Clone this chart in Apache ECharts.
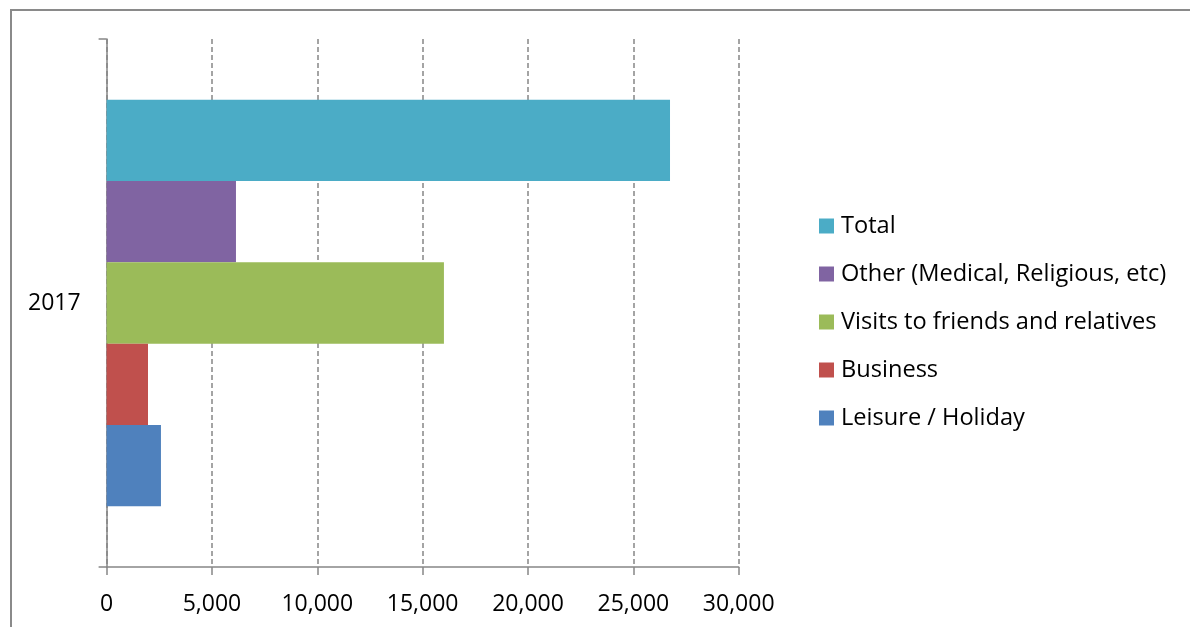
<!DOCTYPE html>
<html>
<head>
<meta charset="utf-8">
<style>
  html, body { margin: 0; padding: 0; background: #fff; }
  #chart { width: 1190px; height: 627px; }
</style>
<script src="https://cdn.jsdelivr.net/npm/echarts@6/dist/echarts.min.js"></script>
</head>
<body>
<div id="chart"></div>
<script>
// Visitor arrivals by purpose of visit
const categories = ['2017'];
const seriesNames = ['Total', 'Other (Medical, Religious, etc)', 'Visits to friends and relatives', 'Business', 'Leisure / Holiday'];
const total = [26740];
const other = [6140];
const visits = [16010];
const business = [1965];
const leisure = [2580];

const colors = ['#4BACC6', '#8064A2', '#9BBB59', '#C0504D', '#4F81BD'];
const values = [total, other, visits, business, leisure];
const FONT = 'Open Sans';

const chart = echarts.init(document.getElementById('chart'), null, { renderer: 'canvas' });

chart.setOption({
  animation: false,
  backgroundColor: '#ffffff',
  graphic: [{
    type: 'rect',
    shape: { x: 11, y: 10, width: 1200, height: 640 },
    style: { fill: 'none', stroke: '#8a8a8a', lineWidth: 2 },
    silent: true
  }],
  grid: { left: 106.6, right: 451.3, top: 39, bottom: 60, containLabel: false },
  legend: {
    orient: 'vertical',
    left: 819,
    top: 214,
    padding: 0,
    itemWidth: 15,
    itemHeight: 15,
    itemGap: 24,
    icon: 'rect',
    data: seriesNames,
    textStyle: { fontFamily: FONT, fontSize: 23.6, color: '#000', lineHeight: 22, padding: [0, 0, 0, 2] }
  },
  xAxis: {
    type: 'value',
    min: 0,
    max: 30000,
    interval: 5000,
    axisLine: { show: true, lineStyle: { color: '#868686', width: 1.5 } },
    axisTick: { show: true, length: 8, lineStyle: { color: '#868686', width: 1.5 } },
    splitLine: { show: true, lineStyle: { color: '#868686', type: [5, 3], width: 1.5 } },
    axisLabel: {
      margin: 26,
      fontFamily: FONT,
      fontSize: 23,
      color: '#000',
      formatter: v => v.toLocaleString('en-US')
    }
  },
  yAxis: {
    type: 'category',
    data: categories,
    axisLine: { show: true, lineStyle: { color: '#868686', width: 1.5 } },
    axisTick: { show: true, length: 8, lineStyle: { color: '#868686', width: 1.5 } },
    axisLabel: { margin: 26, fontFamily: FONT, fontSize: 23, color: '#000' }
  },
  series: seriesNames.map((name, i) => ({
    name,
    type: 'bar',
    data: values[i],
    barGap: '0%',
    barCategoryGap: '23%',
    itemStyle: { color: colors[i] }
  }))
});
</script>
</body>
</html>
